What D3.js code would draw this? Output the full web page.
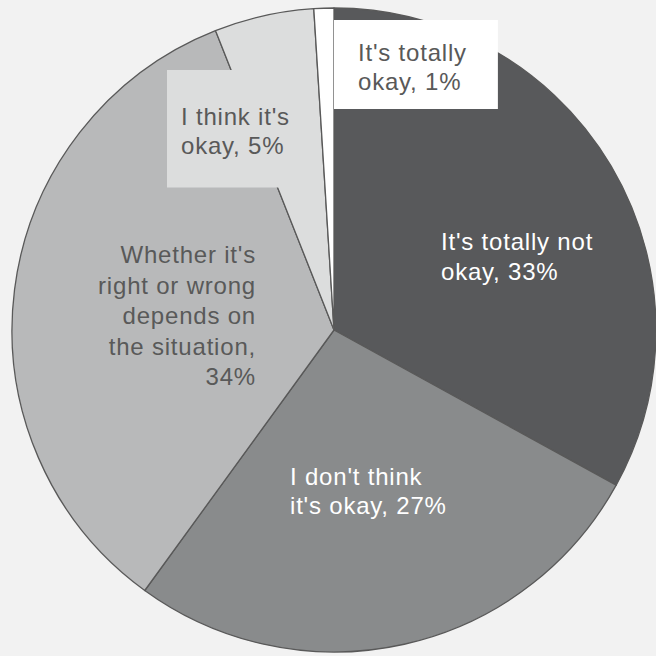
<!DOCTYPE html>
<html>
<head>
<meta charset="utf-8">
<script src="https://cdn.jsdelivr.net/npm/d3@7"></script>
<style>
  html, body { margin: 0; padding: 0; background: #f2f2f2; }
  svg { display: block; }
</style>
</head>
<body>
<div id="chart"></div>
<script>
// data
const categories = ["It's totally not okay", "I don't think it's okay",
    "Whether it's right or wrong depends on the situation", "I think it's okay", "It's totally okay"];
const shares = [33, 27, 34, 5, 1];
// label text, split as in the original; {v} becomes the share
const labelLines = [
    ["It's totally not", "okay, {v}%"],
    ["I don't think", "it's okay, {v}%"],
    ["Whether it's", "right or wrong", "depends on", "the situation,", "{v}%"],
    ["I think it's", "okay, {v}%"],
    ["It's totally", "okay, {v}%"]
];

const sliceColors = ["#58595b", "#898b8c", "#b8b9ba", "#dcdddd", "#ffffff"];

// label placement (first baseline), alignment, colours, optional box
// pad = [top, right, bottom, left] around the text block
const labelLayout = [
    {x: 441, y: 250, anchor: "start", color: "#ffffff", lh: 30},
    {x: 290, y: 485, anchor: "start", color: "#ffffff", lh: 28.5},
    {x: 256, y: 263, anchor: "end", color: "#595959", lh: 30.6},
    {x: 181, y: 125, anchor: "start", color: "#595959", lh: 29, box: "#dcdddd", pad: [37.5, 13, 33.5, 14]},
    {x: 358, y: 61, anchor: "start", color: "#595959", lh: 29, box: "#ffffff", pad: [23.5, 31, 19, 24]}
];

const width = 656, height = 656;
const cx = 334, cy = 330, radius = 322;

const svg = d3.select("#chart").append("svg")
    .attr("width", width)
    .attr("height", height);

svg.append("rect")
    .attr("width", width)
    .attr("height", height)
    .style("fill", "#f2f2f2");

const pie = d3.pie().sort(null).value(d => d.value);
const arc = d3.arc().innerRadius(0).outerRadius(radius);

const data = categories.map((c, i) => ({name: c, value: shares[i]}));

const g = svg.append("g")
    .attr("transform", "translate(" + cx + "," + cy + ")");

g.selectAll("path.slice")
    .data(pie(data))
    .enter()
    .append("path")
    .attr("class", "slice")
    .attr("d", arc)
    .style("fill", (d, i) => sliceColors[i])
    .style("stroke", "#595959")
    .style("stroke-width", 1.3)
    .style("stroke-linejoin", "round");

// labels
const labels = svg.append("g");
labelLines.forEach((lines, i) => {
    const lay = labelLayout[i];
    const lg = labels.append("g");
    const boxRect = lg.append("rect");
    const txt = lg.append("text")
        .style("font-family", "'Liberation Sans', Arial, sans-serif")
        .style("font-size", "24px")
        .style("letter-spacing", "0.8px")
        .style("fill", lay.color)
        .attr("text-anchor", lay.anchor);
    lines.forEach((line, j) => {
        txt.append("tspan")
            .attr("x", lay.x)
            .attr("y", lay.y + j * lay.lh)
            .text(line.replace("{v}", shares[i]));
    });
    if (lay.box) {
        const bb = txt.node().getBBox();
        const p = lay.pad;
        const top = lay.y - 17.5;   // cap top of first line
        const bottom = lay.y + (lines.length - 1) * lay.lh;  // last baseline
        boxRect
            .attr("x", bb.x - p[3])
            .attr("y", top - p[0])
            .attr("width", bb.width + p[1] + p[3])
            .attr("height", bottom - top + p[0] + p[2])
            .style("fill", lay.box);
    } else {
        boxRect.remove();
    }
});
</script>
</body>
</html>
